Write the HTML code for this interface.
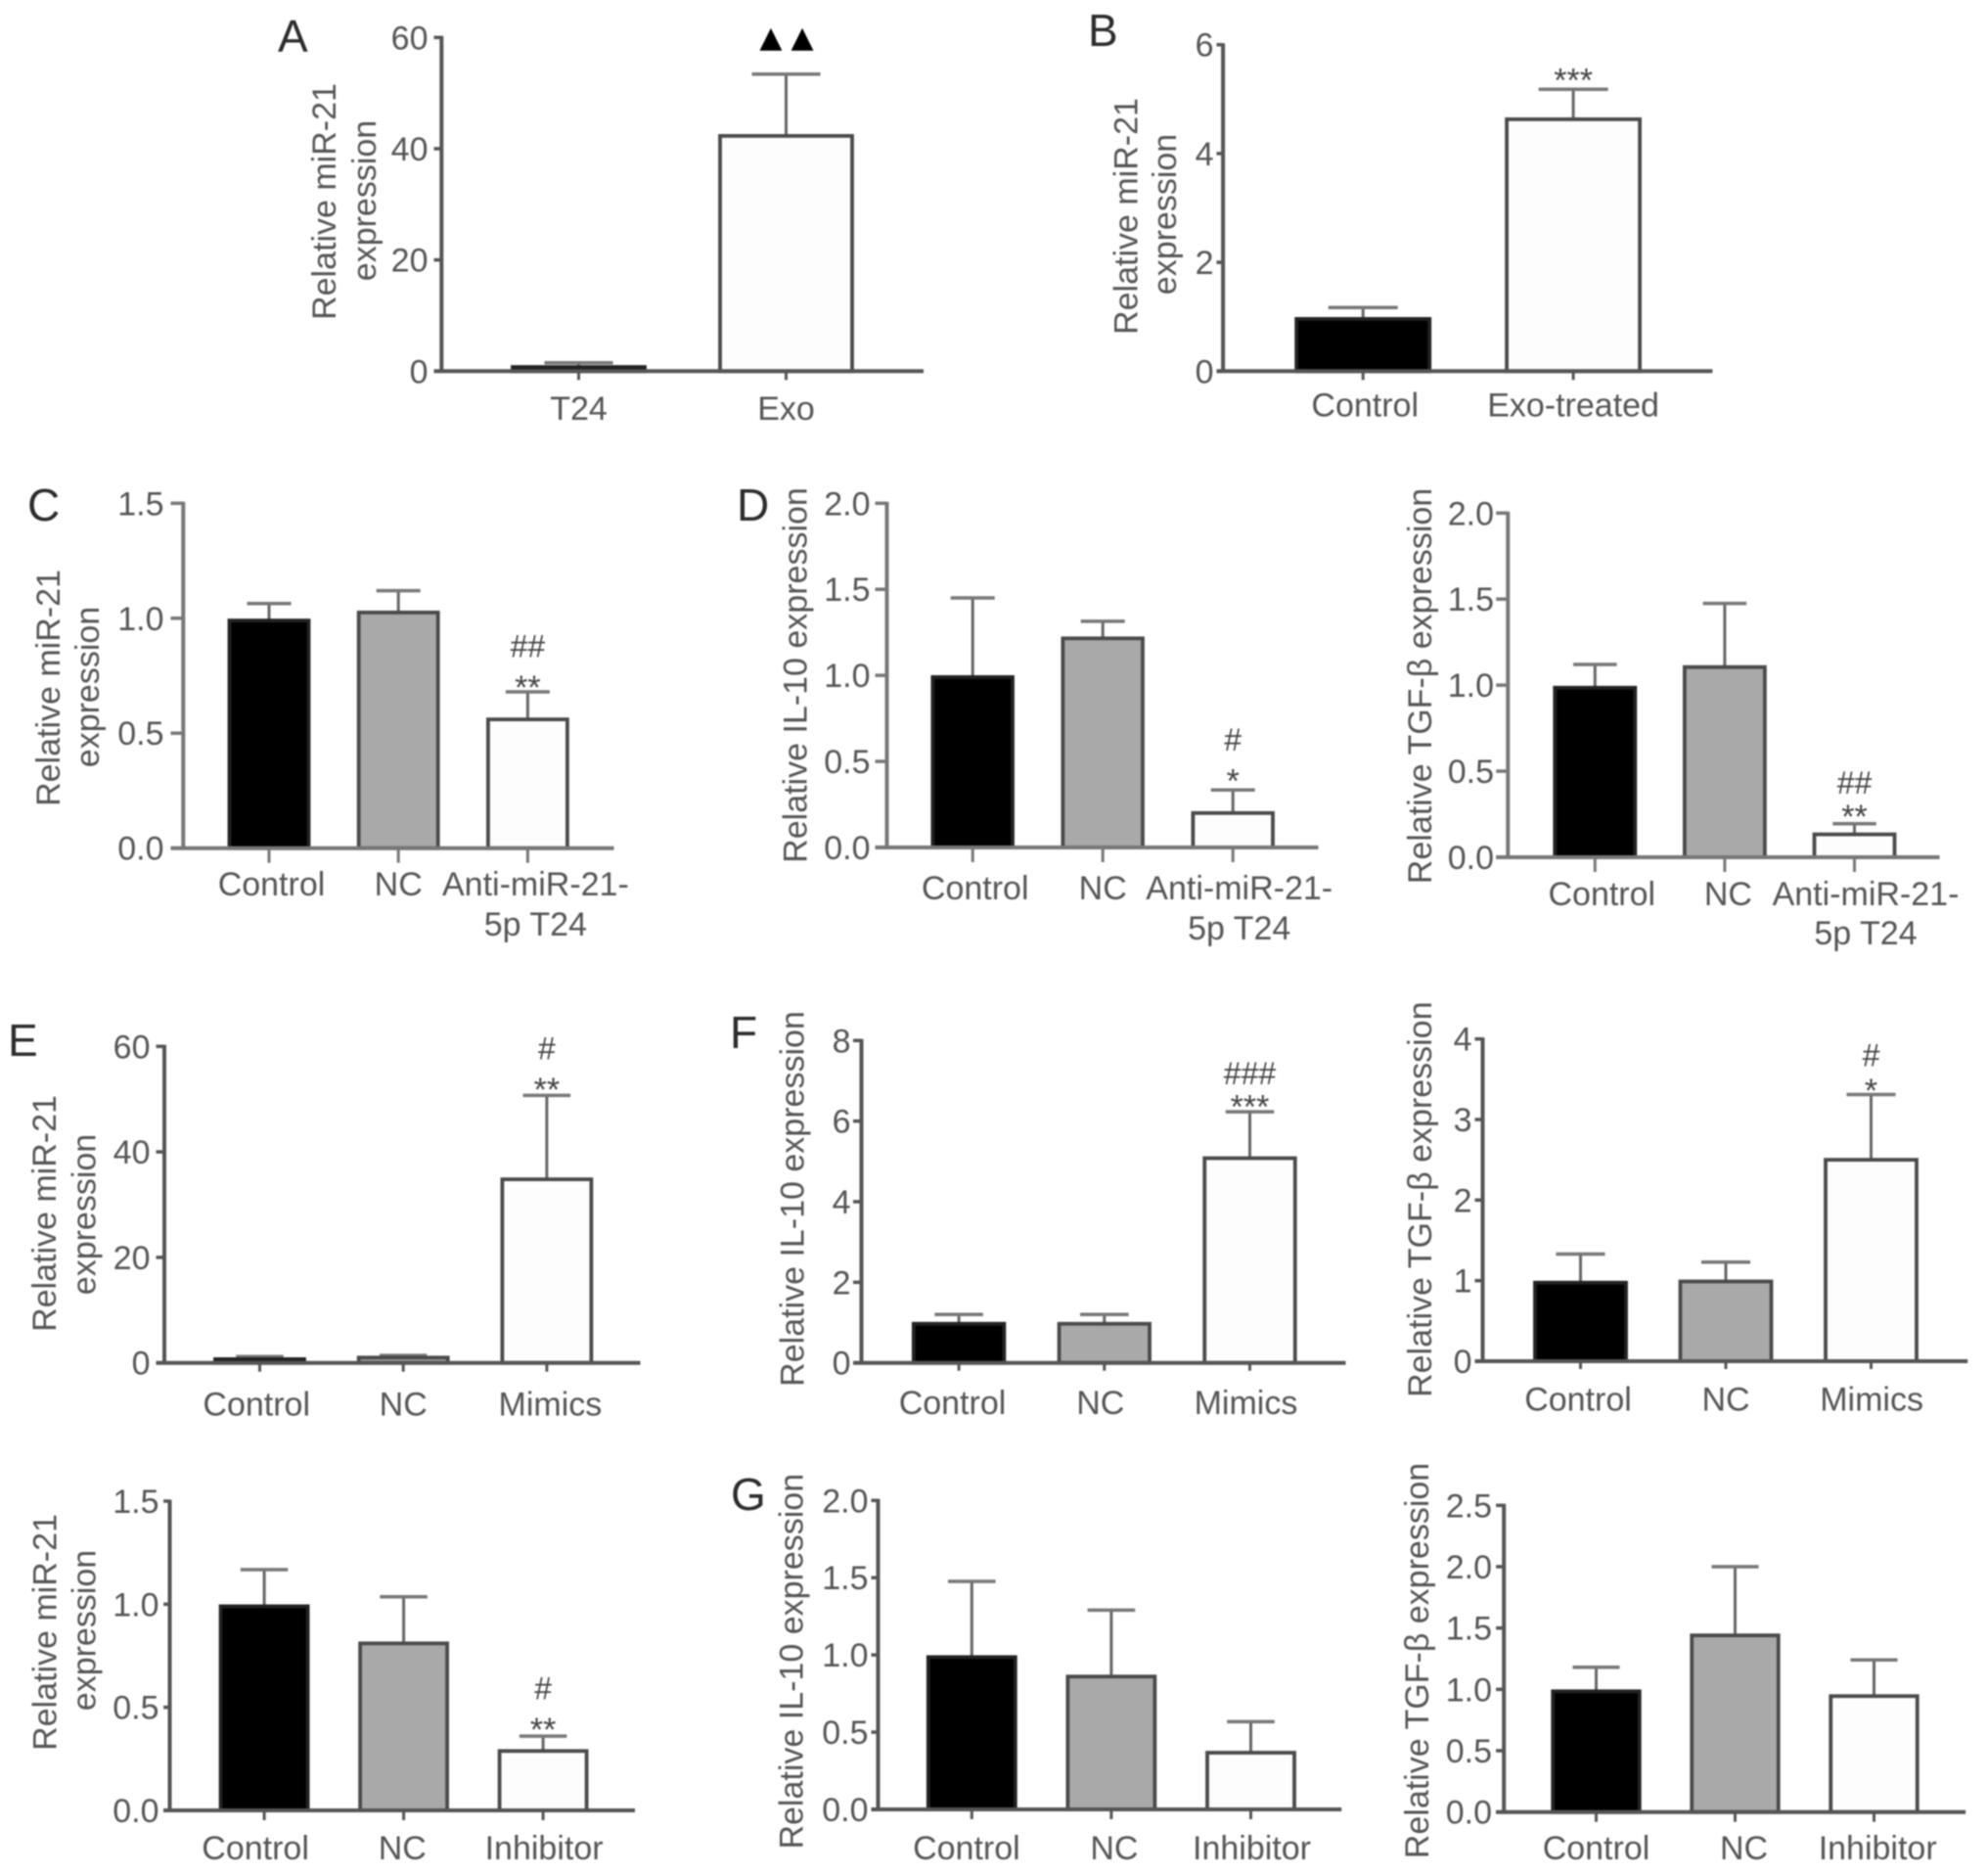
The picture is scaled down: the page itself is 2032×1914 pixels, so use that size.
<!DOCTYPE html>
<html lang="en">
<head>
<meta charset="utf-8">
<title>miR-21, IL-10 and TGF-β relative expression panels</title>
<style>
html,body{margin:0;padding:0;background:#fff;width:2032px;height:1914px;overflow:hidden}
svg{display:block;filter:blur(.9px)}
text{font-family:"Liberation Sans",sans-serif;fill:#555}
</style>
</head>
<body>
<svg id="figure" xmlns="http://www.w3.org/2000/svg" width="2032" height="1914" viewBox="0 0 2032 1914"></svg>
<script>
// ---- Panel A ----
const panelACategories = ["T24", "Exo"];
const panelAValues = [0.75, 42.3];
const panelAErrorTops = [1.5, 53.4];
const panelATicks = ["0", "20", "40", "60"];
const panelAHash = ["", ""];
const panelAStars = ["", "▲▲"];
// ---- Panel B ----
const panelBCategories = ["Control", "Exo-treated"];
const panelBValues = [0.96, 4.63];
const panelBErrorTops = [1.17, 5.18];
const panelBTicks = ["0", "2", "4", "6"];
const panelBHash = ["", ""];
const panelBStars = ["", "***"];
// ---- Panel C ----
const panelCCategories = ["Control", "NC", "Anti-miR-21-|5p T24"];
const panelCValues = [0.99, 1.025, 0.56];
const panelCErrorTops = [1.064, 1.12, 0.68];
const panelCTicks = ["0.0", "0.5", "1.0", "1.5"];
const panelCHash = ["", "", "##"];
const panelCStars = ["", "", "**"];
// ---- Panel D, IL-10 ----
const panelD1Categories = ["Control", "NC", "Anti-miR-21-|5p T24"];
const panelD1Values = [0.99, 1.215, 0.2];
const panelD1ErrorTops = [1.45, 1.314, 0.334];
const panelD1Ticks = ["0.0", "0.5", "1.0", "1.5", "2.0"];
const panelD1Hash = ["", "", "#"];
const panelD1Stars = ["", "", "*"];
// ---- Panel D, TGF-beta ----
const panelD2Categories = ["Control", "NC", "Anti-miR-21-|5p T24"];
const panelD2Values = [0.985, 1.105, 0.133];
const panelD2ErrorTops = [1.12, 1.475, 0.195];
const panelD2Ticks = ["0.0", "0.5", "1.0", "1.5", "2.0"];
const panelD2Hash = ["", "", "##"];
const panelD2Stars = ["", "", "**"];
// ---- Panel E ----
const panelECategories = ["Control", "NC", "Mimics"];
const panelEValues = [0.7, 1.0, 34.8];
const panelEErrorTops = [1.2, 1.4, 50.7];
const panelETicks = ["0", "20", "40", "60"];
const panelEHash = ["", "", "#"];
const panelEStars = ["", "", "**"];
// ---- Panel F, IL-10 ----
const panelF1Categories = ["Control", "NC", "Mimics"];
const panelF1Values = [0.97, 0.97, 5.08];
const panelF1ErrorTops = [1.2, 1.2, 6.23];
const panelF1Ticks = ["0", "2", "4", "6", "8"];
const panelF1Hash = ["", "", "###"];
const panelF1Stars = ["", "", "***"];
// ---- Panel F, TGF-beta ----
const panelF2Categories = ["Control", "NC", "Mimics"];
const panelF2Values = [0.975, 0.99, 2.5];
const panelF2ErrorTops = [1.33, 1.23, 3.31];
const panelF2Ticks = ["0", "1", "2", "3", "4"];
const panelF2Hash = ["", "", "#"];
const panelF2Stars = ["", "", "*"];
// ---- Panel E, inhibitor miR-21 ----
const panelG0Categories = ["Control", "NC", "Inhibitor"];
const panelG0Values = [0.99, 0.81, 0.288];
const panelG0ErrorTops = [1.168, 1.036, 0.36];
const panelG0Ticks = ["0.0", "0.5", "1.0", "1.5"];
const panelG0Hash = ["", "", "#"];
const panelG0Stars = ["", "", "**"];
// ---- Panel G, IL-10 ----
const panelG1Categories = ["Control", "NC", "Inhibitor"];
const panelG1Values = [0.986, 0.86, 0.367];
const panelG1ErrorTops = [1.476, 1.29, 0.568];
const panelG1Ticks = ["0.0", "0.5", "1.0", "1.5", "2.0"];
const panelG1Hash = ["", "", ""];
const panelG1Stars = ["", "", ""];
// ---- Panel G, TGF-beta ----
const panelG2Categories = ["Control", "NC", "Inhibitor"];
const panelG2Values = [0.984, 1.44, 0.945];
const panelG2ErrorTops = [1.18, 2.0, 1.24];
const panelG2Ticks = ["0.0", "0.5", "1.0", "1.5", "2.0", "2.5"];
const panelG2Hash = ["", "", ""];
const panelG2Stars = ["", "", ""];

const FILLS3 = ["#000", "#a9a9a9", "#fdfdfd"];
const FILLS_A = ["#000", "#fdfdfd"];
const X_NUDGE = -2.5;

const panels = [
 {id:"a", cats:panelACategories, vals:panelAValues, errs:panelAErrorTops, ticks:panelATicks, hash:panelAHash, stars:panelAStars,
  fills:FILLS_A, axisX:453.8, xEnd:946.5, top:38.3, bot:379.3, tickX:446, c0:594, step:212, bw:138, cap:70, down:9, labelBase:429,
  labelShift:[0,0], labelGap:40, tickRight:437.5, titles:[["Relative miR-21",343,206],["expression",384,205]], hashGap:0, starGap:35, triangles:true, axisColor:"#555"},
 {id:"b", cats:panelBCategories, vals:panelBValues, errs:panelBErrorTops, ticks:panelBTicks, hash:panelBHash, stars:panelBStars,
  fills:FILLS_A, axisX:1252.6, xEnd:1752.9, top:45.7, bot:379.3, tickX:1246, c0:1395.7, step:214.9, bw:139, cap:71, down:9, labelBase:425.5,
  labelShift:[2,0],  labelGap:40, tickRight:1240.5, titles:[["Relative miR-21",1162.7,221],["expression",1202,219]], hashGap:0, starGap:16, axisColor:"#555"},
 {id:"c", cats:panelCCategories, vals:panelCValues, errs:panelCErrorTops, ticks:panelCTicks, hash:panelCHash, stars:panelCStars,
  fills:FILLS3, axisX:189.8, xEnd:630, top:514.3, bot:866.7, tickX:177, c0:277.5, step:132.2, bw:84, cap:45, down:15, labelBase:915,
  labelShift:[2.5,0,8], labelGap:41, tickRight:167.5, titles:[["Relative miR-21",61,703],["expression",101,702]], hashGap:45, starGap:10.7, axisColor:"#777"},
 {id:"d-il10", cats:panelD1Categories, vals:panelD1Values, errs:panelD1ErrorTops, ticks:panelD1Ticks, hash:panelD1Hash, stars:panelD1Stars,
  fills:FILLS3, axisX:909, xEnd:1350, top:514.3, bot:866, tickX:897, c0:996.7, step:133, bw:84.6, cap:45, down:15, labelBase:919,
  labelShift:[2.5,0,6.5], labelGap:41, tickRight:889.5, titles:[["Relative IL-10 expression",824.6,690]], hashGap:50, starGap:15.6, axisColor:"#777"},
 {id:"d-tgfb", cats:panelD2Categories, vals:panelD2Values, errs:panelD2ErrorTops, ticks:panelD2Ticks, hash:panelD2Hash, stars:panelD2Stars,
  fills:FILLS3, axisX:1543.8, xEnd:1985, top:524.3, bot:876, tickX:1531.7, c0:1632.8, step:132.6, bw:85, cap:44.5, down:15, labelBase:925,
  labelShift:[7,3.5,11.5], labelGap:40, tickRight:1527, titles:[["Relative TGF-β expression",1462.8,701]], hashGap:40, starGap:13.7, axisColor:"#777"},
 {id:"e-mimics", cats:panelECategories, vals:panelEValues, errs:panelEErrorTops, ticks:panelETicks, hash:panelEHash, stars:panelEStars,
  fills:FILLS3, axisX:170.5, xEnd:657, top:1069.3, bot:1392.7, tickX:162, c0:268, step:146.7, bw:94, cap:48.5, down:9, labelBase:1446.7,
  labelShift:[-3.3,0,3.5], labelGap:40, tickRight:153.5, titles:[["Relative miR-21",57,1240],["expression",97.7,1241]], hashGap:46.6, starGap:12.3, axisColor:"#555"},
 {id:"f-il10", cats:panelF1Categories, vals:panelF1Values, errs:panelF1ErrorTops, ticks:panelF1Ticks, hash:panelF1Hash, stars:panelF1Stars,
  fills:FILLS3, axisX:883, xEnd:1378, top:1063.3, bot:1392.7, tickX:874.5, c0:982.6, step:148.7, bw:95.5, cap:49.5, down:8, labelBase:1445,
  labelShift:[-6.6,-4,-4], labelGap:40, tickRight:869.5, titles:[["Relative IL-10 expression",821.6,1225]], hashGap:37.7, starGap:11.7, axisColor:"#555"},
 {id:"f-tgfb", cats:panelF2Categories, vals:panelF2Values, errs:panelF2ErrorTops, ticks:panelF2Ticks, hash:panelF2Hash, stars:panelF2Stars,
  fills:FILLS3, axisX:1518, xEnd:2013.7, top:1061.7, bot:1391, tickX:1510, c0:1618, step:148.5, bw:96, cap:50, down:8, labelBase:1441.7,
  labelShift:[-2.5,0,0.6], labelGap:40, tickRight:1504.5, titles:[["Relative TGF-β expression",1462.8,1225.7]], hashGap:38.3, starGap:10.6, axisColor:"#555"},
 {id:"e-inhibitor", cats:panelG0Categories, vals:panelG0Values, errs:panelG0ErrorTops, ticks:panelG0Ticks, hash:panelG0Hash, stars:panelG0Stars,
  fills:FILLS3, axisX:176, xEnd:651.5, top:1534, bot:1850, tickX:169.6, c0:272.6, step:142.5, bw:92, cap:48.5, down:10, labelBase:1900,
  labelShift:[-9,-1.3,1], labelGap:40, tickRight:162.5, titles:[["Relative miR-21",57.3,1668],["expression",97.7,1666]], hashGap:47.3, starGap:13.3, axisColor:"#555"},
 {id:"g-il10", cats:panelG1Categories, vals:panelG1Values, errs:panelG1ErrorTops, ticks:panelG1Ticks, hash:panelG1Hash, stars:panelG1Stars,
  fills:FILLS3, axisX:900, xEnd:1373.7, top:1533.3, bot:1849, tickX:893, c0:995.8, step:142.6, bw:92, cap:48.6, down:10, labelBase:1900,
  labelShift:[-5.4,3,1], labelGap:40, tickRight:887.5, titles:[["Relative IL-10 expression",820.4,1697.7]], hashGap:0, starGap:0, axisColor:"#555"},
 {id:"g-tgfb", cats:panelG2Categories, vals:panelG2Values, errs:panelG2ErrorTops, ticks:panelG2Ticks, hash:panelG2Hash, stars:panelG2Stars,
  fills:FILLS3, axisX:1539.7, xEnd:2011.6, top:1538.3, bot:1851.7, tickX:1531.6, c0:1634, step:142, bw:91.5, cap:48, down:10, labelBase:1900,
  labelShift:[0,9,3.7], labelGap:40, tickRight:1525, titles:[["Relative TGF-β expression",1460,1697]], hashGap:0, starGap:0, axisColor:"#555"}
];

const panelLetters = [
 ["A", 284, 53], ["B", 1112, 47], ["C", 28, 532], ["D", 753, 532],
 ["E", 8, 1079], ["F", 746, 1071], ["G", 747, 1543]
];

const svg = document.getElementById("figure");
const NS = "http://www.w3.org/2000/svg";

function make(parent, tag, attrs, content) {
  const el = document.createElementNS(NS, tag);
  for (const k in attrs) el.setAttribute(k, attrs[k]);
  if (content !== undefined) el.textContent = content;
  parent.appendChild(el);
  return el;
}

panels.forEach(function (p) {
  const axisX = p.axisX + X_NUDGE;
  const tickX = p.tickX + X_NUDGE;
  const xEnd = p.xEnd + X_NUDGE;
  const ymax = parseFloat(p.ticks[p.ticks.length - 1]);
  const yScale = function (v) { return p.bot - (v / ymax) * (p.bot - p.top); };
  const xScale = function (i) { return p.c0 + X_NUDGE + i * p.step; };

  const g = make(svg, "g", {});
  
  

  // bars & error bars
  p.vals.forEach(function (v, i) {
    const cx = xScale(i);
    const yTop = yScale(v);
    const errY = yScale(p.errs[i]);

    const stem = make(g, "line", {x1:cx, x2:cx, y1:yTop, y2:errY, stroke:"#666", "stroke-width":3});
    
    

    const cap = make(g, "line", {x1:cx - p.cap / 2, x2:cx + p.cap / 2, y1:errY, y2:errY, stroke:"#777", "stroke-width":3.5});
    
    

    const bar = make(g, "rect", {x:cx - p.bw / 2 + 1.5, y:yTop, width:p.bw - 3, height:p.bot - yTop,
      fill:p.fills[i], stroke:i === 0 ? "#222" : "#4a4a4a", "stroke-width":3.8});
    
    

    // x ticks
    const xt = make(g, "line", {x1:cx, x2:cx, y1:p.bot, y2:p.bot + p.down, stroke:p.axisColor, "stroke-width":3});
    
    

    // x labels (a | marks a wrapped line)
    p.cats[i].split("|").forEach(function (line, n) {
      const lab = make(g, "text", {x:cx + p.labelShift[i], y:p.labelBase + n * p.labelGap, "text-anchor":"middle", "font-size":34}, line);
      
      
    });

    // significance marks
    if (p.stars[i]) {
      if (p.triangles) {
        const tri = make(g, "text", {x:cx + 5, y:errY - p.starGap + 7, "text-anchor":"middle", "font-size":30, "letter-spacing":9,
          style:"font-family:'DejaVu Sans',sans-serif;fill:#000"}, p.stars[i]);
        
        
      } else {
        const st = make(g, "text", {x:cx, y:errY - p.starGap + 18, "text-anchor":"middle", "font-size":34, style:"fill:#444"}, p.stars[i]);
        
        
      }
    }
    if (p.hash[i]) {
      const h = make(g, "text", {x:cx, y:errY - p.hashGap + 9.5, "text-anchor":"middle", "font-size":32, style:"fill:#444"}, p.hash[i]);
      
      
    }
  });

  // axes
  const yAxis = make(g, "line", {x1:axisX, x2:axisX, y1:p.top - 1.5, y2:p.bot + 1.5, stroke:p.axisColor, "stroke-width":4});
  
  

  const xAxis = make(g, "line", {x1:tickX, x2:xEnd, y1:p.bot, y2:p.bot, stroke:p.axisColor, "stroke-width":4});
  
  

  // y ticks
  p.ticks.forEach(function (t) {
    const y = yScale(parseFloat(t));
    const yt = make(g, "line", {x1:tickX, x2:axisX, y1:y, y2:y, stroke:p.axisColor, "stroke-width":3.5});
    
    

    const tl = make(g, "text", {x:p.tickRight, y:y + 12, "text-anchor":"end", "font-size":34}, t);
    
    
  });

  // y title lines: [text, baseline x, centre y]
  p.titles.forEach(function (tt) {
    const title = make(g, "text", {transform:"translate(" + tt[1] + "," + tt[2] + ") rotate(-90)", "text-anchor":"middle", "font-size":34}, tt[0]);
    
    
  });
});

panelLetters.forEach(function (l) {
  const t = make(svg, "text", {x:l[1], y:l[2], "font-size":46, style:"fill:#2c2c2c"}, l[0]);
  
  
});
</script>
</body>
</html>
